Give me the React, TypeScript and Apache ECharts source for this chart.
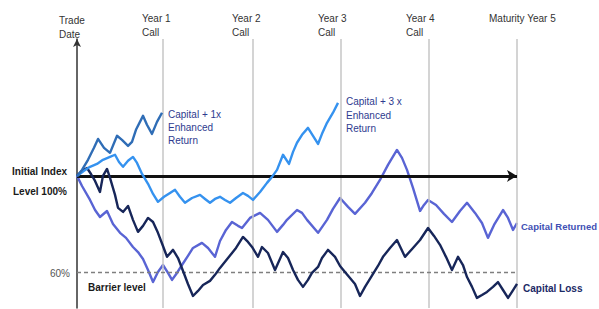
import React, { useEffect, useRef } from "react";
import * as echarts from "echarts";

// x = years from trade date, y = index level in % of initial level
const plus1xPath: number[][] = [
  [0, 100], [0.057, 102.5], [0.125, 106.7], [0.193, 111.7], [0.239, 115.4], [0.307, 111.7],
  [0.375, 109.6], [0.455, 116.7], [0.511, 115.0], [0.58, 112.5], [0.625, 114.2], [0.67, 119.2],
  [0.75, 125.0], [0.795, 121.3], [0.852, 117.5], [0.909, 122.5], [0.966, 126.3],
];

const plus3xPath: number[][] = [
  [0, 100], [0.08, 102.1], [0.148, 103.8], [0.227, 105.0], [0.295, 106.7], [0.375, 107.9],
  [0.432, 108.8], [0.477, 105.8], [0.523, 103.8], [0.58, 106.3], [0.636, 107.9], [0.682, 105.4],
  [0.739, 100.8], [0.807, 96.7], [0.864, 92.5], [0.92, 89.2], [0.989, 91.3], [1.057, 92.9],
  [1.114, 94.2], [1.17, 91.3], [1.227, 88.8], [1.307, 90.8], [1.398, 92.1], [1.455, 90.4],
  [1.511, 88.8], [1.568, 90.4], [1.625, 91.3], [1.682, 90.0], [1.739, 88.8], [1.807, 90.8],
  [1.886, 92.9], [1.943, 91.7], [2.0, 90.0], [2.08, 93.3], [2.159, 97.1], [2.216, 99.6],
  [2.273, 102.5], [2.341, 108.8], [2.409, 105.0], [2.455, 110.0], [2.5, 113.8], [2.557, 117.1],
  [2.625, 120.0], [2.682, 116.7], [2.739, 113.3], [2.784, 117.5], [2.841, 122.1], [2.909, 126.3],
  [2.966, 130.4],
];

const returnedPath: number[][] = [
  [0, 100], [0.057, 95.8], [0.148, 90.0], [0.205, 85.8], [0.261, 82.9], [0.341, 85.4],
  [0.409, 80.0], [0.489, 76.3], [0.557, 74.2], [0.636, 70.4], [0.693, 68.3], [0.75, 65.4],
  [0.807, 60.8], [0.864, 55.8], [0.92, 60.0], [0.977, 62.9], [1.034, 59.6], [1.08, 56.7],
  [1.136, 59.6], [1.193, 62.9], [1.261, 66.7], [1.318, 70.0], [1.42, 72.1], [1.489, 70.0],
  [1.568, 66.3], [1.625, 72.9], [1.693, 77.5], [1.761, 80.8], [1.83, 79.2], [1.875, 78.3],
  [1.966, 82.5], [2.08, 84.6], [2.17, 81.7], [2.273, 76.7], [2.341, 79.6], [2.386, 81.7],
  [2.5, 85.8], [2.557, 84.6], [2.614, 81.7], [2.739, 76.3], [2.841, 81.7], [2.909, 86.3],
  [2.989, 90.8], [3.08, 87.1], [3.159, 84.2], [3.273, 88.8], [3.352, 92.9], [3.443, 98.3],
  [3.534, 104.6], [3.636, 110.8], [3.693, 107.5], [3.75, 102.5], [3.818, 95.0], [3.898, 85.4],
  [3.943, 87.9], [3.989, 90.0], [4.08, 87.9], [4.17, 84.2], [4.261, 80.8], [4.352, 85.4],
  [4.432, 88.8], [4.523, 84.6], [4.602, 80.4], [4.67, 74.2], [4.739, 79.6], [4.841, 85.8],
  [4.898, 82.5], [4.955, 77.5], [5.0, 80.4],
];

const lossPath: number[][] = [
  [0, 100], [0.057, 102.1], [0.114, 103.3], [0.159, 100.8], [0.205, 97.9], [0.261, 93.3],
  [0.295, 100.0], [0.341, 102.9], [0.375, 99.2], [0.432, 92.1], [0.466, 86.7], [0.523, 85.0],
  [0.58, 87.5], [0.636, 81.7], [0.693, 76.7], [0.75, 79.2], [0.807, 82.5], [0.864, 80.8],
  [0.92, 76.3], [0.977, 70.8], [1.023, 66.3], [1.091, 69.2], [1.148, 65.8], [1.205, 60.4],
  [1.261, 55.0], [1.318, 50.0], [1.375, 52.1], [1.432, 54.6], [1.511, 56.3], [1.568, 58.8],
  [1.625, 61.7], [1.716, 65.8], [1.807, 70.0], [1.886, 74.6], [1.943, 72.5], [1.989, 70.4],
  [2.057, 66.3], [2.102, 70.4], [2.17, 67.9], [2.25, 60.8], [2.341, 68.3], [2.398, 65.8],
  [2.455, 60.8], [2.511, 56.7], [2.568, 53.8], [2.625, 56.7], [2.67, 59.6], [2.739, 62.1],
  [2.784, 65.8], [2.852, 69.2], [2.932, 66.3], [2.989, 62.5], [3.045, 60.0], [3.102, 57.5],
  [3.159, 55.0], [3.216, 50.0], [3.273, 53.8], [3.364, 59.2], [3.42, 62.5], [3.477, 66.3],
  [3.557, 70.0], [3.636, 73.3], [3.727, 66.3], [3.818, 70.0], [3.898, 73.3], [3.989, 78.3],
  [4.057, 75.0], [4.125, 71.3], [4.193, 66.3], [4.261, 60.8], [4.33, 66.3], [4.386, 62.9],
  [4.432, 57.9], [4.489, 53.8], [4.545, 49.2], [4.602, 50.4], [4.659, 51.7], [4.727, 53.8],
  [4.784, 55.8], [4.841, 52.5], [4.898, 49.2], [4.943, 51.7], [5.0, 55.0],
];

const callYears = [0.97, 2, 3, 4, 5];
const initialLevel = 100;
const barrierLevel = 60;
const horizonYears = 5;

const topLabels = ["Trade\nDate", "Year 1\nCall", "Year 2\nCall", "Year 3\nCall", "Year 4\nCall", "Maturity Year 5"];

const FONT = '"Liberation Sans", Arial, sans-serif';

export default function App() {
  const ref = useRef<HTMLDivElement>(null);

  useEffect(() => {
    if (!ref.current) return;
    const chart = echarts.init(ref.current, undefined, { renderer: "svg" });

    const lineSeries = (data: number[][], color: string, z: number) => ({
      type: "line",
      data,
      symbol: "none",
      smooth: false,
      z,
      lineStyle: { color, width: 2.4, join: "round" },
      silent: true,
    });

    const txt = (text: string, x: number, y: number, fill: string, bold = false, lineHeight = 14, size = 10) => ({
      type: "text",
      x,
      y,
      silent: true,
      style: {
        text,
        fill,
        font: `${bold ? "bold " : ""}${size}px ${FONT}`,
        lineHeight,
        verticalAlign: "top",
        align: "left",
      },
    });

    const topX = [59, 142, 232, 318, 406, 489];
    const topY = [13, 11.5, 11.5, 11.5, 11.5, 11.5];

    chart.setOption({
      animation: false,
      grid: { left: 77, right: 82, top: 39, bottom: 1, containLabel: false },
      xAxis: {
        type: "value",
        min: 0,
        max: horizonYears,
        axisLine: { show: false },
        axisTick: { show: false },
        axisLabel: { show: false },
        splitLine: { show: false },
      },
      yAxis: {
        type: "value",
        min: 45,
        max: 157,
        axisLine: {
          show: true,
          symbol: ["none", "arrow"],
          symbolSize: [6, 8],
          lineStyle: { color: "#333333", width: 1.5 },
        },
        axisTick: { show: false },
        axisLabel: { show: false },
        splitLine: { show: false },
      },
      series: [
        {
          type: "line",
          data: [[0, initialLevel]],
          symbol: "none",
          lineStyle: { opacity: 0 },
          silent: true,
          z: 1,
          markLine: {
            silent: true,
            symbol: "none",
            label: { show: false },
            lineStyle: { color: "#c6c6c6", width: 1.5, type: "solid" },
            data: callYears.map((x) => ({ xAxis: x })),
          },
        },
        {
          type: "line",
          data: [[0, initialLevel]],
          symbol: "none",
          lineStyle: { opacity: 0 },
          silent: true,
          z: 2,
          markLine: {
            silent: true,
            symbol: "none",
            label: { show: false },
            lineStyle: { color: "#7f7f7f", width: 1.3, type: [4, 3] },
            data: [[{ coord: [0, barrierLevel] }, { coord: [horizonYears, barrierLevel] }]],
          },
        },
        {
          type: "line",
          data: [[0, initialLevel]],
          symbol: "none",
          lineStyle: { opacity: 0 },
          silent: true,
          z: 2,
          markLine: {
            silent: true,
            symbol: ["none", "arrow"],
            symbolSize: [9, 10],
            label: { show: false },
            lineStyle: { color: "#111111", width: 3, type: "solid" },
            data: [[{ coord: [0, initialLevel] }, { coord: [horizonYears, initialLevel] }]],
          },
        },
        lineSeries(lossPath, "#172659", 5),
        lineSeries(returnedPath, "#5964d4", 4),
        lineSeries(plus3xPath, "#3592ef", 6),
        lineSeries(plus1xPath, "#2f6db6", 7),
      ],
      graphic: [
        ...topLabels.map((t, i) => txt(t, topX[i], topY[i], "#333333")),
        txt("Capital + 1x\nEnhanced\nReturn", 168, 108, "#2e3b8f", false, 13),
        txt("Capital + 3 x\nEnhanced\nReturn", 346, 95, "#2e3b8f", false, 13.5),
        txt("Capital Returned", 521, 219, "#4150b4", true, 14, 9.5),
        txt("Capital Loss", 523, 281, "#1c2a66", true),
        txt("Initial Index", 12, 164, "#1a1a1a", true),
        txt("Level 100%", 13, 184, "#1a1a1a", true),
        txt("60%", 50, 266, "#555555"),
        txt("Barrier level", 88, 280, "#1a1a1a", true),
      ],
    });

    return () => chart.dispose();
  }, []);

  return (
    <div
      ref={ref}
      style={{ position: "fixed", left: 0, top: 0, width: 599, height: 309, background: "#ffffff" }}
    />
  );
}
